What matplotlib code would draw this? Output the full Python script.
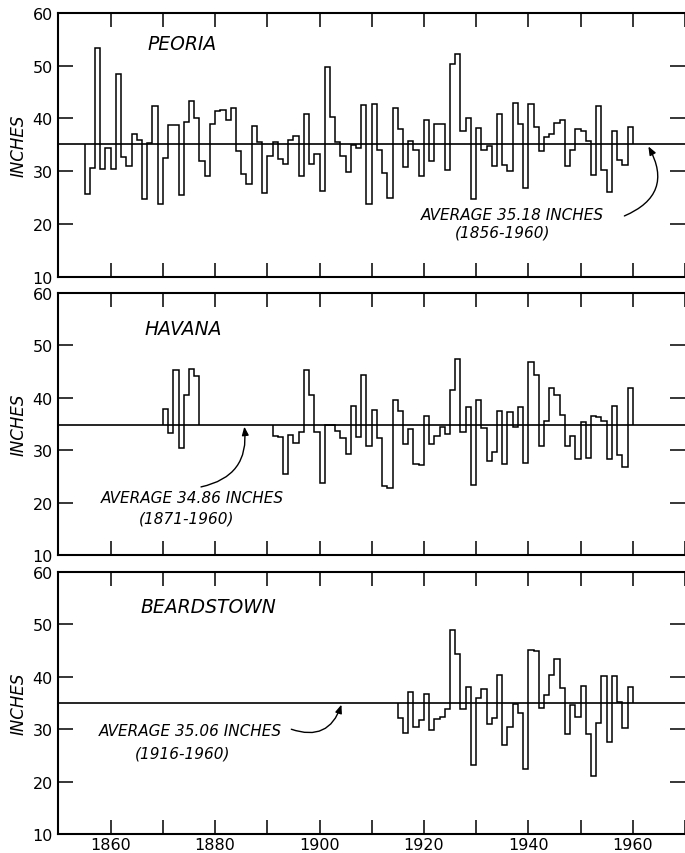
import numpy as np
import matplotlib
matplotlib.use("Agg")
import matplotlib.pyplot as plt

# annual precipitation, inches (year Y is drawn over the span Y-1 .. Y)
peoria_years = np.arange(1856, 1961)
peoria_values = [
    25.7, 30.6, 53.4, 30.5, 34.4, 30.5, 48.4, 32.6, 30.9, 37.1,
    36.0, 24.7, 35.4, 42.4, 23.8, 32.5, 38.7, 38.7, 25.5, 39.3,
    43.4, 40.1, 32.0, 29.0, 39.0, 41.4, 41.6, 39.8, 42.0, 33.8,
    29.5, 27.5, 38.5, 35.5, 25.8, 32.9, 35.5, 32.3, 31.3, 35.9,
    36.6, 29.0, 40.9, 31.3, 33.3, 26.3, 49.7, 40.3, 35.5, 32.8,
    29.8, 35.0, 34.4, 42.5, 23.8, 42.7, 34.1, 29.6, 24.9, 41.9,
    38.0, 30.7, 35.7, 34.1, 29.0, 39.7, 32.0, 38.9, 38.9, 30.3,
    50.4, 52.2, 37.6, 40.0, 24.7, 38.1, 34.1, 34.7, 31.0, 40.8,
    31.2, 30.1, 42.9, 38.9, 26.8, 42.8, 38.3, 33.8, 36.4, 37.1,
    39.2, 39.7, 31.0, 34.1, 38.0, 37.7, 35.8, 29.3, 42.4, 30.3,
    26.1, 37.6, 32.2, 31.2, 38.3,
]

havana_years_early = np.arange(1871, 1878)
havana_values_early = [37.9, 33.3, 45.4, 30.5, 40.5, 45.5, 44.2]
havana_years_late = np.arange(1892, 1961)
havana_values_late = [
    32.8, 32.5, 25.5, 32.9, 31.4, 33.5, 45.3, 40.5, 33.5, 23.8,
    34.8, 34.8, 33.6, 32.4, 29.3, 38.4, 32.6, 44.4, 30.9, 37.6,
    32.3, 23.2, 22.8, 39.6, 37.4, 31.1, 34.1, 27.4, 27.2, 36.5,
    31.1, 32.7, 34.4, 33.1, 41.4, 47.5, 33.5, 38.2, 23.4, 39.5,
    34.2, 28.0, 29.6, 37.5, 27.4, 37.3, 34.5, 38.2, 27.5, 46.9,
    44.3, 30.8, 35.5, 41.8, 40.6, 36.8, 30.9, 32.7, 28.3, 35.4,
    28.5, 36.5, 36.3, 35.5, 28.3, 38.4, 29.0, 26.8, 41.8,
]

beardstown_years = np.arange(1916, 1961)
beardstown_values = [
    32.2, 29.3, 37.1, 30.4, 31.7, 36.7, 29.8, 31.9, 32.3, 33.8,
    48.9, 44.4, 33.9, 38.1, 23.1, 36.0, 37.7, 31.0, 32.1, 40.4,
    27.0, 30.4, 34.9, 33.1, 22.4, 45.1, 45.0, 34.0, 36.5, 40.3,
    43.4, 37.9, 29.0, 34.7, 32.3, 38.3, 29.1, 21.1, 31.2, 40.2,
    27.5, 40.2, 35.2, 30.2, 38.1,
]

averages = [35.18, 34.86, 35.06]
station_names = ["PEORIA", "HAVANA", "BEARDSTOWN"]
avg_labels = ["AVERAGE 35.18 INCHES", "AVERAGE 34.86 INCHES", "AVERAGE 35.06 INCHES"]
period_labels = ["(1856-1960)", "(1871-1960)", "(1916-1960)"]
x_ticks = np.arange(1850, 1971, 10)
x_labels = ["", "1860", "", "1880", "", "1900", "", "1920", "", "1940", "", "1960", ""]
y_ticks = [10, 20, 30, 40, 50, 60]


def stairs(ax, years, values, avg):
    edges = np.append(years - 1, years[-1])
    ax.stairs(values, edges, baseline=avg, color="black", lw=1.1)


def style_axis(ax, show_xlabels):
    ax.set_xlim(1850, 1970)
    ax.set_ylim(10, 60)
    ax.set_xticks(x_ticks)
    ax.set_xticklabels(x_labels if show_xlabels else [])
    ax.set_yticks(y_ticks)
    ax.tick_params(axis="x", direction="in", top=True, length=10, width=1.1,
                   labelsize=11.5, pad=2)
    ax.tick_params(axis="y", direction="in", right=True, length=10.5, width=1.1,
                   labelsize=11.5, pad=4)
    for side in ["left", "top", "bottom"]:
        ax.spines[side].set_linewidth(1.5)
    ax.spines["right"].set_visible(False)
    ax.text(-0.064, 0.5, "INCHES", transform=ax.transAxes, rotation=90,
            ha="center", va="center", style="italic", fontsize=12)


def make_plot():
    fig = plt.figure(figsize=(6.85, 8.54), dpi=100)
    boxes = [[0.0854, 0.6750, 0.9145, 0.3085],
             [0.0854, 0.3489, 0.9145, 0.3068],
             [0.0854, 0.0222, 0.9145, 0.3068]]
    axes = [fig.add_axes(b) for b in boxes]

    # series
    stairs(axes[0], peoria_years, peoria_values, averages[0])
    stairs(axes[1], havana_years_early, havana_values_early, averages[1])
    stairs(axes[1], havana_years_late, havana_values_late, averages[1])
    stairs(axes[2], beardstown_years, beardstown_values, averages[2])

    # labels and arrows, per panel
    title_pos = [(1867.1, 54.2), (1866.4, 53.3), (1865.7, 53.4)]
    avg_pos = [(1919.5, 21.7), (1858.2, 20.9), (1857.7, 29.85)]
    period_pos = [(1935.1, 18.5), (1874.5, 17.1), (1873.7, 25.5)]
    arrow_from = [(1958.4, 21.5), (1877.3, 23.0), (1894.6, 30.0)]
    arrow_to = [(1963.0, 34.7), (1885.6, 34.5), (1904.2, 34.7)]
    arrow_rad = [0.55, 0.45, 0.5]

    for i, ax in enumerate(axes):
        ax.axhline(averages[i], color="black", lw=1.2)
        style_axis(ax, i == 2)
        ax.text(title_pos[i][0], title_pos[i][1], station_names[i],
                style="italic", fontsize=13.5, ha="left", va="center")
        ax.text(avg_pos[i][0], avg_pos[i][1], avg_labels[i],
                style="italic", fontsize=11, ha="left", va="center")
        ax.text(period_pos[i][0], period_pos[i][1], period_labels[i],
                style="italic", fontsize=11, ha="center", va="center")
        ax.annotate("", xy=arrow_to[i], xytext=arrow_from[i],
                    arrowprops=dict(arrowstyle="-|>,head_length=0.5,head_width=0.2",
                                    color="black", lw=1.0, shrinkA=0, shrinkB=0,
                                    connectionstyle="arc3,rad=%s" % arrow_rad[i]))

    fig.savefig("out.png", dpi=100)


if __name__ == "__main__":
    make_plot()
